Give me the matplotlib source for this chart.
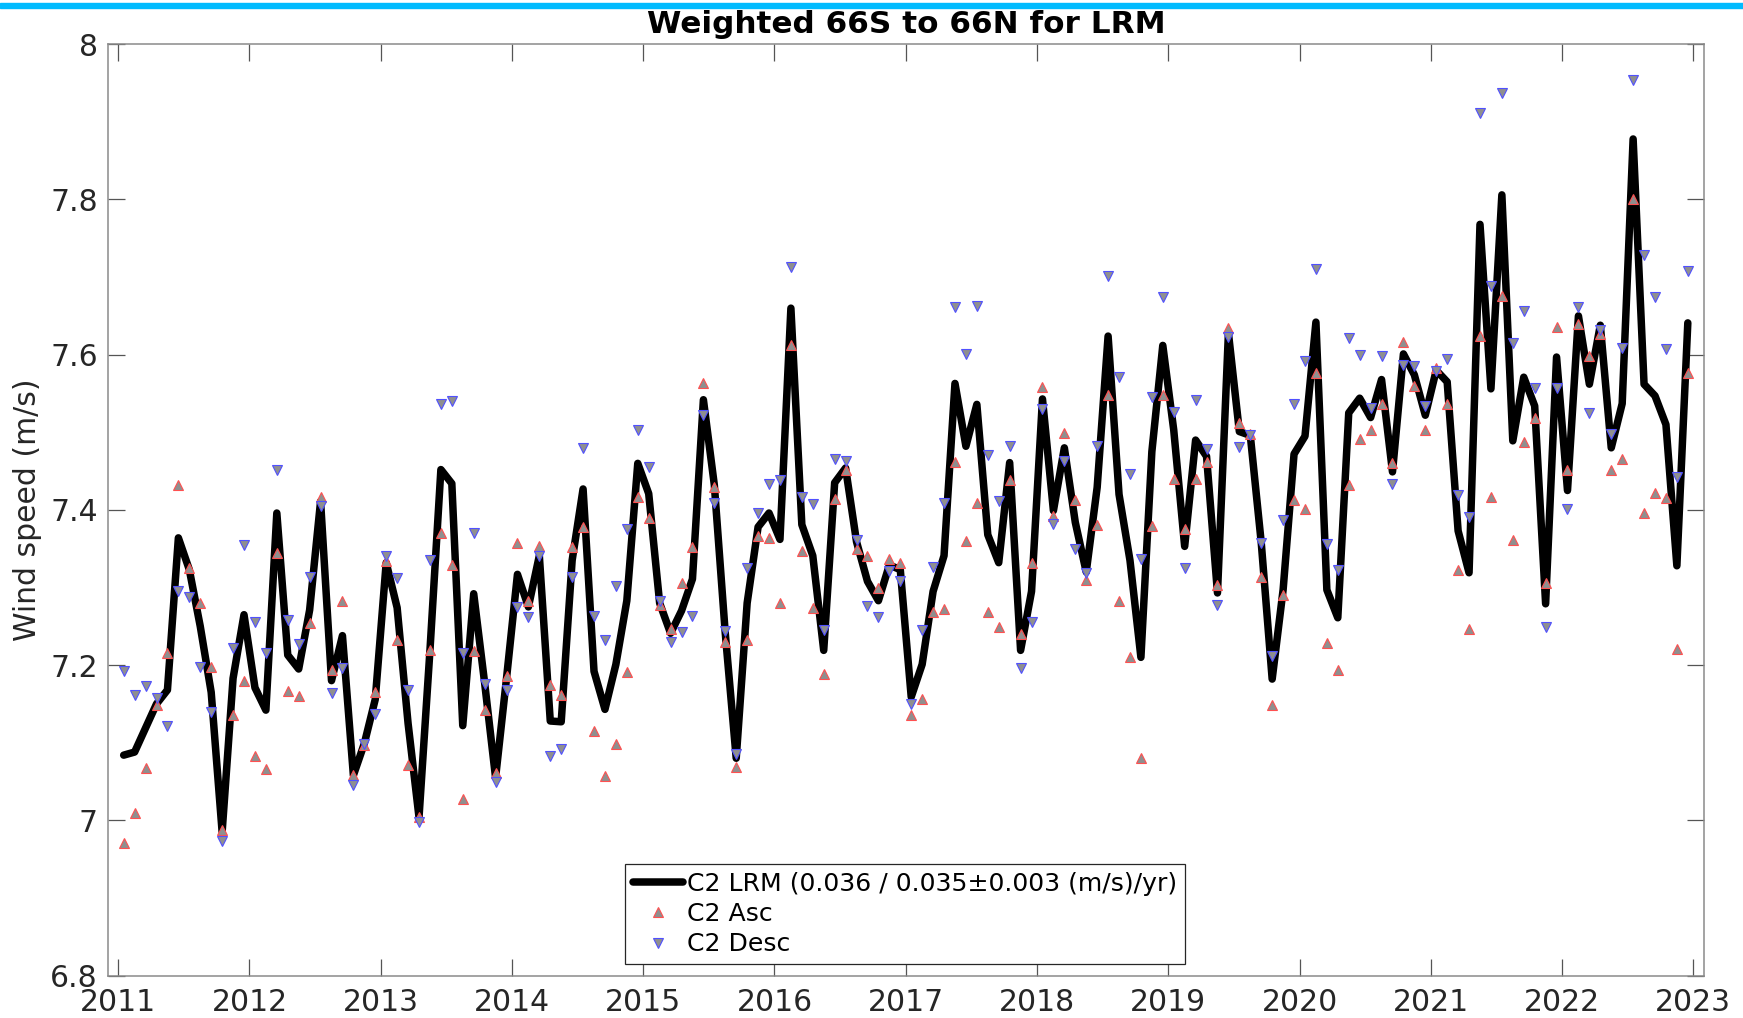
"""Weighted 66S to 66N wind speed for CryoSat-2 LRM, monthly means 2011-2022."""

import matplotlib

matplotlib.use("Agg")
import matplotlib.pyplot as plt
import numpy as np
from matplotlib.patches import Rectangle

YEARS = list(range(2011, 2023))

# monthly mean, one row per year (Jan..Dec)
LRM = [
    7.084, 7.088, 7.119, 7.150, 7.168, 7.364, 7.323, 7.250, 7.165, 6.985, 7.183, 7.265,
    7.171, 7.142, 7.396, 7.213, 7.195, 7.271, 7.411, 7.180, 7.238, 7.058, 7.099, 7.156,
    7.332, 7.274, 7.125, 7.004, 7.219, 7.452, 7.434, 7.122, 7.292, 7.177, 7.055, 7.183,
    7.317, 7.275, 7.341, 7.128, 7.127, 7.335, 7.427, 7.192, 7.143, 7.201, 7.283, 7.460,
    7.421, 7.280, 7.241, 7.270, 7.311, 7.542, 7.432, 7.241, 7.080, 7.280, 7.378, 7.396,
    7.362, 7.660, 7.381, 7.341, 7.219, 7.435, 7.454, 7.359, 7.308, 7.283, 7.329, 7.323,
    7.159, 7.201, 7.295, 7.341, 7.563, 7.482, 7.536, 7.368, 7.332, 7.461, 7.219, 7.295,
    7.543, 7.399, 7.480, 7.384, 7.320, 7.429, 7.624, 7.420, 7.335, 7.210, 7.475, 7.612,
    7.503, 7.353, 7.490, 7.469, 7.293, 7.628, 7.501, 7.496, 7.358, 7.182, 7.297, 7.472,
    7.495, 7.642, 7.297, 7.261, 7.525, 7.544, 7.519, 7.568, 7.449, 7.601, 7.574, 7.522,
    7.580, 7.565, 7.373, 7.319, 7.768, 7.556, 7.806, 7.489, 7.571, 7.534, 7.279, 7.597,
    7.425, 7.650, 7.562, 7.638, 7.480, 7.537, 7.878, 7.562, 7.547, 7.510, 7.328, 7.641,
]

ASC = [
    6.971, 7.010, 7.068, 7.148, 7.215, 7.432, 7.325, 7.280, 7.198, 6.987, 7.136, 7.180,
    7.083, 7.066, 7.345, 7.167, 7.160, 7.254, 7.416, 7.194, 7.282, 7.058, 7.097, 7.166,
    7.334, 7.232, 7.071, 7.004, 7.219, 7.370, 7.329, 7.028, 7.218, 7.142, 7.061, 7.186,
    7.358, 7.282, 7.353, 7.174, 7.161, 7.352, 7.378, 7.115, 7.057, 7.098, 7.191, 7.417,
    7.389, 7.277, 7.247, 7.306, 7.352, 7.564, 7.429, 7.230, 7.069, 7.233, 7.367, 7.364,
    7.280, 7.612, 7.347, 7.274, 7.189, 7.414, 7.452, 7.350, 7.340, 7.300, 7.337, 7.331,
    7.136, 7.156, 7.269, 7.272, 7.462, 7.360, 7.409, 7.269, 7.249, 7.438, 7.240, 7.331,
    7.558, 7.392, 7.499, 7.413, 7.310, 7.381, 7.548, 7.283, 7.210, 7.080, 7.379, 7.548,
    7.440, 7.376, 7.440, 7.462, 7.303, 7.634, 7.512, 7.498, 7.314, 7.148, 7.290, 7.413,
    7.401, 7.577, 7.229, 7.194, 7.432, 7.492, 7.503, 7.537, 7.461, 7.616, 7.560, 7.503,
    7.583, 7.537, 7.323, 7.246, 7.624, 7.417, 7.676, 7.361, 7.488, 7.519, 7.306, 7.636,
    7.452, 7.639, 7.598, 7.627, 7.452, 7.466, 7.801, 7.396, 7.422, 7.415, 7.221, 7.577,
]

DESC = [
    7.192, 7.162, 7.173, 7.157, 7.122, 7.296, 7.288, 7.198, 7.139, 6.973, 7.222, 7.355,
    7.256, 7.216, 7.452, 7.258, 7.227, 7.313, 7.405, 7.164, 7.196, 7.046, 7.099, 7.137,
    7.340, 7.312, 7.168, 6.998, 7.336, 7.537, 7.540, 7.216, 7.370, 7.176, 7.049, 7.168,
    7.275, 7.262, 7.341, 7.083, 7.092, 7.314, 7.480, 7.263, 7.232, 7.302, 7.375, 7.503,
    7.455, 7.283, 7.230, 7.243, 7.263, 7.522, 7.409, 7.244, 7.085, 7.325, 7.396, 7.434,
    7.438, 7.713, 7.417, 7.407, 7.245, 7.466, 7.463, 7.361, 7.276, 7.262, 7.321, 7.309,
    7.150, 7.245, 7.326, 7.409, 7.662, 7.601, 7.663, 7.471, 7.412, 7.483, 7.196, 7.255,
    7.530, 7.382, 7.463, 7.350, 7.319, 7.483, 7.701, 7.571, 7.446, 7.337, 7.545, 7.675,
    7.526, 7.325, 7.541, 7.478, 7.277, 7.623, 7.481, 7.497, 7.357, 7.212, 7.387, 7.537,
    7.592, 7.710, 7.356, 7.322, 7.621, 7.599, 7.531, 7.598, 7.434, 7.587, 7.585, 7.534,
    7.579, 7.594, 7.419, 7.391, 7.911, 7.689, 7.937, 7.615, 7.656, 7.557, 7.249, 7.557,
    7.401, 7.661, 7.525, 7.632, 7.498, 7.609, 7.954, 7.728, 7.674, 7.607, 7.442, 7.708,
]

LRM_LABEL = "C2 LRM (0.036 / 0.035\u00b10.003 (m/s)/yr)"
ASC_LABEL = "C2 Asc"
DESC_LABEL = "C2 Desc"
TITLE = "Weighted 66S to 66N for LRM"
YLABEL = "Wind speed (m/s)"
YTICKS = [6.8, 7.0, 7.2, 7.4, 7.6, 7.8, 8.0]
XTICKS = list(range(2011, 2024))


def month_times() -> np.ndarray:
    return np.array([y + (m + 0.5) / 12 for y in YEARS for m in range(12)])


def main() -> None:
    plt.rcParams["font.family"] = ["DejaVu Sans"]
    fig = plt.figure(figsize=(17.43, 10.18), dpi=100)
    ax = fig.add_axes([0.0618, 0.0417, 0.916, 0.9148])

    t = month_times()
    ax.plot(t, LRM, color="black", linewidth=5.4, solid_joinstyle="round",
            solid_capstyle="round", label=LRM_LABEL, zorder=2)
    ax.plot(t, ASC, linestyle="none", marker="^", markersize=7.8,
            markerfacecolor="#8f8f8f", markeredgecolor="#ff5050",
            markeredgewidth=0.8, label=ASC_LABEL, zorder=3)
    ax.plot(t, DESC, linestyle="none", marker="v", markersize=7.8,
            markerfacecolor="#8f8f8f", markeredgecolor="#5050ff",
            markeredgewidth=0.8, label=DESC_LABEL, zorder=3)

    ax.set_xlim(2010.92, 2023.084)
    ax.set_ylim(6.8, 8.0)
    ax.set_xticks(XTICKS)
    ax.set_xticklabels([str(x) for x in XTICKS])
    ax.set_yticks(YTICKS)
    ax.set_yticklabels([f"{v:g}" for v in YTICKS])

    ax.tick_params(direction="in", length=12, width=0.9, top=True, right=True,
                   labelsize=21.5, colors="#555555", labelcolor="#262626")
    ax.tick_params(axis="x", pad=9)
    ax.tick_params(axis="y", pad=7)
    for spine in ax.spines.values():
        spine.set_color("#8a8a8a")
        spine.set_linewidth(1.1)

    ax.set_title(TITLE, fontsize=22.4, fontweight="bold", pad=8)
    ax.set_ylabel(YLABEL, fontsize=21.5, color="#262626", labelpad=6)

    leg = ax.legend(loc="lower center", bbox_to_anchor=(0.4994, 0.012),
                    borderaxespad=0, fontsize=18.1, fancybox=False,
                    framealpha=1, edgecolor="#262626", handletextpad=0.15,
                    labelspacing=0.25, borderpad=0.32, handlelength=2.0,
                    markerscale=1.0)
    leg.get_frame().set_linewidth(0.9)

    # cyan band along the very top of the figure
    fig.patches.append(Rectangle((0, 1 - 8.3 / 1018), 1, 5.6 / 1018,
                                 transform=fig.transFigure, color="#00bbff",
                                 zorder=10))

    fig.savefig("out.png", dpi=100)
    plt.close(fig)


if __name__ == "__main__":
    main()
